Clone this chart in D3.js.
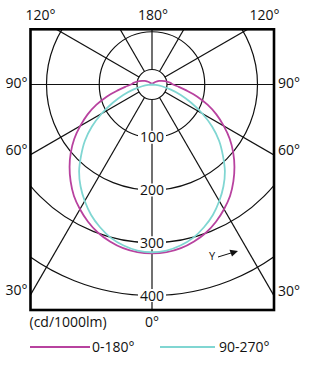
<!DOCTYPE html>
<html>
<head>
<meta charset="utf-8">
<script src="https://cdn.jsdelivr.net/npm/d3@7"></script>
<style>
body{margin:0;background:#fff;}
text{font-family:"Open Sans",sans-serif;font-size:14px;fill:#111;}
</style>
</head>
<body>
<div id="root"></div>
<script>
// polar data, angle measured from nadir (0 deg = straight down)
var angles  = [0,5,10,15,20,25,30,35,40,45,50,55,60,65,70,75,80,85,90,95,100,105,110,115,120,125,130,140,150,160,170,180];
var plane0  = [320,319,315,308,299,287,273,258,240,221,201,180,157,135,112,89,67,51,40,35,30,25,20,16,13,9,6,3,2,1,1,0];
var plane90 = [318,316,310,301,288,273,255,236,215,190,166,139,110,82,58,36,19,7,0,0,0,0,0,0,0,0,0,0,0,0,0,0];
var rings = [100,200,300,400];
var spokes = [0,30,60,90,120,150,180];
var sideLabels = [90,60,30];
var series = [
  {name:'0-180°', values:plane0, color:'#b8429f'},
  {name:'90-270°', values:plane90, color:'#80d6d2'}
];

var W=327,H=368;
var cx=152,cy=84.5,hub=15;
var fr={l:30.5,r:274,t:29.3,b:310};
var rad=Math.PI/180;

var svg=d3.select('#root').append('svg').attr('width',W).attr('height',H);

var r=d3.scaleLinear().domain([0,400]).range([0,211]);

svg.append('clipPath').attr('id','clip').append('rect')
  .attr('x',fr.l).attr('y',fr.t).attr('width',fr.r-fr.l).attr('height',fr.b-fr.t);

var g=svg.append('g').attr('clip-path','url(#clip)');
var c=g.append('g').attr('transform','translate('+cx+','+cy+')');

// rings
c.selectAll('.ring').data(rings).enter().append('circle').attr('class','ring')
  .attr('r',function(d){return r(d)})
  .attr('fill','none').attr('stroke','#111').attr('stroke-width',1.2);
c.append('circle').attr('r',hub).attr('fill','none').attr('stroke','#111').attr('stroke-width',1.2);

// spokes
var spokeAng=[];
spokes.forEach(function(a){spokeAng.push(a); if(a>0&&a<180) spokeAng.push(-a);});
c.selectAll('.spoke').data(spokeAng).enter().append('line').attr('class','spoke')
  .attr('x1',function(d){return hub*Math.sin(d*rad)})
  .attr('y1',function(d){return hub*Math.cos(d*rad)})
  .attr('x2',function(d){return r(500)*Math.sin(d*rad)})
  .attr('y2',function(d){return r(500)*Math.cos(d*rad)})
  .attr('stroke','#111').attr('stroke-width',1.2);

// curves
var line=d3.lineRadial()
  .angle(function(d){return Math.PI-d.a*rad})
  .radius(function(d){return r(d.v)})
  .curve(d3.curveCatmullRom);

series.forEach(function(s){
  var pts=[];
  for(var i=angles.length-1;i>=0;i--) pts.push({a:-angles[i],v:s.values[i]});
  for(var j=1;j<angles.length;j++) pts.push({a:angles[j],v:s.values[j]});
  c.append('path').attr('d',line(pts)).attr('fill','none')
    .attr('stroke',s.color).attr('stroke-width',1.8);
});

// ring labels
var rl=svg.selectAll('.rlab').data(rings).enter().append('g').attr('class','rlab')
  .attr('transform',function(d){return 'translate('+cx+','+(cy+r(d))+')'});
rl.append('rect').attr('x',-14).attr('y',-6.5).attr('width',28).attr('height',13).attr('fill','#fff');
rl.append('text').attr('text-anchor','middle').attr('dy','0.36em').text(function(d){return d});

// frame
svg.append('rect').attr('x',fr.l).attr('y',fr.t).attr('width',fr.r-fr.l).attr('height',fr.b-fr.t)
  .attr('fill','none').attr('stroke','#000').attr('stroke-width',2.6);

// angle labels, top
var topDx=(cy-fr.t)*Math.tan(60*rad);
svg.append('text').attr('x',cx-topDx-1).attr('y',20).attr('text-anchor','end').text('120°');
svg.append('text').attr('x',cx+topDx+2).attr('y',20).attr('text-anchor','start').text('120°');
svg.append('text').attr('x',cx+1).attr('y',20).attr('text-anchor','middle').text('180°');

// angle labels, sides
sideLabels.forEach(function(a){
  var yl = a==90 ? cy+3 : cy+(cx-fr.l)/Math.tan(a*rad);
  var yr = a==90 ? cy+3 : cy+(fr.r-cx)/Math.tan(a*rad);
  svg.append('text').attr('x',fr.l-3).attr('y',yl).attr('text-anchor','end').text(a+'°');
  svg.append('text').attr('x',fr.r+4).attr('y',yr).attr('text-anchor','start').text(a+'°');
});

svg.append('text').attr('x',cx).attr('y',327).attr('text-anchor','middle').text('0°');
svg.append('text').attr('x',fr.l-1).attr('y',327).text('(cd/1000lm)');

// Y arrow
svg.append('text').attr('x',209).attr('y',259.5).style('font-size','11px').text('Y');
svg.append('line').attr('x1',218).attr('y1',257).attr('x2',231).attr('y2',253)
  .attr('stroke','#111').attr('stroke-width',1);
svg.append('path').attr('d','M238,251 L229.5,249.8 L232,256.5 Z').attr('fill','#111');

// legend
var lg=svg.selectAll('.leg').data(series).enter().append('g').attr('class','leg')
  .attr('transform',function(d,i){return 'translate('+(i==0?30:160)+',347)'});
lg.append('line').attr('x1',0).attr('x2',function(d,i){return i==0?60:55}).attr('y1',0).attr('y2',0)
  .attr('stroke',function(d){return d.color}).attr('stroke-width',1.8);
lg.append('text').attr('x',function(d,i){return i==0?62:59}).attr('y',5).text(function(d){return d.name});
</script>
</body>
</html>
